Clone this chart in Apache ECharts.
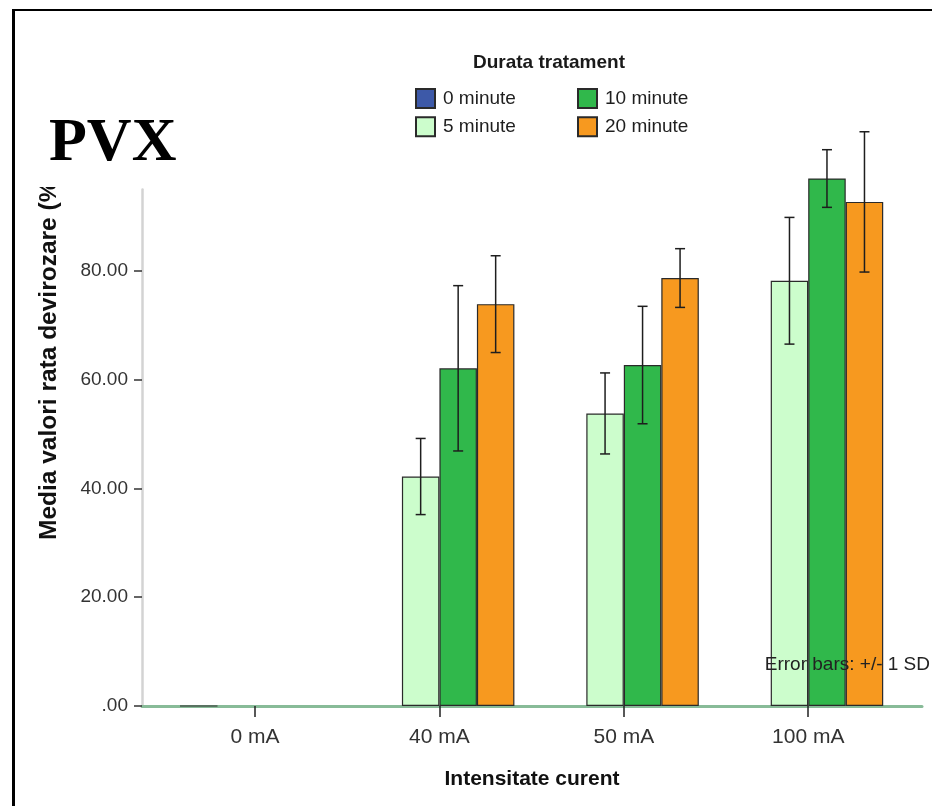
<!DOCTYPE html>
<html><head><meta charset="utf-8">
<script src="https://cdn.jsdelivr.net/npm/echarts@6/dist/echarts.min.js"></script>
<style>
html,body{margin:0;padding:0;background:#fff;width:932px;height:806px;overflow:hidden;}
#chart{position:absolute;left:0;top:0;width:932px;height:806px;}
#frame{position:absolute;left:12px;top:9px;width:940px;height:820px;border-left:3px solid #000;border-top:2px solid #000;pointer-events:none;}
</style></head><body>
<div id="chart"></div><div id="frame"></div>
<script>
// ---- data ----
const categories = ['0 mA', '40 mA', '50 mA', '100 mA'];
const groupNames = ['0 minute', '5 minute', '10 minute', '20 minute'];
const mean0  = [0, null, null, null];
const mean5  = [null, 42.2, 53.8, 78.2];
const mean10 = [null, 62.1, 62.7, 97.0];
const mean20 = [null, 73.9, 78.7, 92.7];
const sd0  = [0, null, null, null];
const sd5  = [null, 7.0, 7.45, 11.65];
const sd10 = [null, 15.2, 10.8, 5.3];
const sd20 = [null, 8.9, 5.4, 12.9];
const yTicks = [0, 20, 40, 60, 80];
const yTickLabels = ['.00', '20.00', '40.00', '60.00', '80.00'];
const catTicks = [0, 1, 2, 3];

// ---- style ----
const colors = ['#3d59a8', '#ccfdcc', '#30b84b', '#f7991f'];
const BAR_W = 37.5;
const FONT = "'Liberation Sans', Arial, sans-serif";

const means = [mean0, mean5, mean10, mean20];
const sds = [sd0, sd5, sd10, sd20];

const barSeries = means.map((arr, g) => ({
  type: 'bar',
  name: groupNames[g],
  barWidth: BAR_W,
  barGap: '0%',
  clip: false,
  data: arr.map((v, i) => v == null ? null : [i, v]).filter(d => d),
  itemStyle: { color: colors[g], borderColor: '#2a2a2a', borderWidth: 1.2 },
  emphasis: { disabled: true },
  z: 2
}));

const errData = [];
means.forEach((arr, g) => arr.forEach((v, i) => {
  if (v != null && sds[g][i]) errData.push([i, g, v, sds[g][i]]);
}));

const errSeries = {
  type: 'custom',
  silent: true,
  z: 5,
  clip: false,
  encode: { x: 0, y: 2 },
  data: errData,
  renderItem(params, api) {
    const c = api.value(0), g = api.value(1), m = api.value(2), s = api.value(3);
    const cx = api.coord([c, 0])[0] + (g - 1.5) * BAR_W;
    const yt = api.coord([c, m + s])[1];
    const yb = api.coord([c, m - s])[1];
    const st = { stroke: '#1e1e1e', lineWidth: 1.5 };
    const hw = 5;
    return { type: 'group', children: [
      { type: 'line', shape: { x1: cx, y1: yt, x2: cx, y2: yb }, style: st },
      { type: 'line', shape: { x1: cx - hw, y1: yt, x2: cx + hw, y2: yt }, style: st },
      { type: 'line', shape: { x1: cx - hw, y1: yb, x2: cx + hw, y2: yb }, style: st }
    ]};
  }
};

const chart = echarts.init(document.getElementById('chart'), null, { renderer: 'canvas' });
const legendBase = {
  orient: 'vertical', top: 88, padding: 0, icon: 'rect',
  itemWidth: 19, itemHeight: 19, itemGap: 7.3,
  selectedMode: false,
  textStyle: { fontFamily: FONT, fontSize: 19, color: '#1e1e1e', padding: [0, 0, 0, 3] }
};
chart.setOption({
  animation: false,
  backgroundColor: '#fff',
  title: [
    { text: 'PVX', left: 34, top: 101, padding: [12, 12, 12, 15], backgroundColor: '#fff',
      textStyle: { fontFamily: "'Liberation Serif', 'Times New Roman', serif", fontWeight: 'bold', fontSize: 62, lineHeight: 62, color: '#000' } },
    { text: 'Durata tratament', left: 549, top: 53, textAlign: 'center', padding: 0,
      textStyle: { fontFamily: FONT, fontWeight: 'bold', fontSize: 19, color: '#1a1a1a' } },
    { text: 'Error bars: +/- 1 SD', right: 2, top: 655.5, padding: 0,
      textStyle: { fontFamily: FONT, fontWeight: 'normal', fontSize: 19, color: '#222' } }
  ],
  legend: [
    Object.assign({}, legendBase, { left: 415, data: [groupNames[0], groupNames[1]] }),
    Object.assign({}, legendBase, { left: 577, data: [groupNames[2], groupNames[3]] })
  ],
  grid: { left: 142, right: 10, top: 189.4, bottom: 100, containLabel: false },
  xAxis: {
    type: 'value', min: -0.6128, max: 3.617,
    name: 'Intensitate curent', nameLocation: 'middle', nameGap: 63,
    nameTextStyle: { fontFamily: FONT, fontWeight: 'bold', fontSize: 21, color: '#111' },
    axisLine: { show: true, onZero: false, lineStyle: { color: '#88bb98', width: 3 } },
    axisTick: { show: true, length: 11, customValues: catTicks, lineStyle: { color: '#222', width: 1.5 } },
    axisLabel: { customValues: catTicks, margin: 21, fontFamily: FONT, fontSize: 21, color: '#333',
      formatter: v => categories[Math.round(v)] },
    splitLine: { show: false }
  },
  yAxis: {
    type: 'value', min: 0, max: 95,
    name: 'Media valori rata devirozare (%)', nameLocation: 'middle', nameGap: 80,
    nameTextStyle: { fontFamily: FONT, fontWeight: 'bold', fontSize: 24.5, color: '#111', padding: [0, 0, 0, 183] },
    axisLine: { show: true, onZero: false, lineStyle: { color: '#d3d3d3', width: 2.5 } },
    axisTick: { show: true, length: 8, customValues: yTicks, lineStyle: { color: '#333', width: 1.5 } },
    axisLabel: { customValues: yTicks, margin: 14, fontFamily: FONT, fontSize: 19, color: '#333',
      formatter: v => yTickLabels[yTicks.indexOf(v)] },
    splitLine: { show: false }
  },
  series: barSeries.concat([errSeries])
});
</script>
</body></html>
